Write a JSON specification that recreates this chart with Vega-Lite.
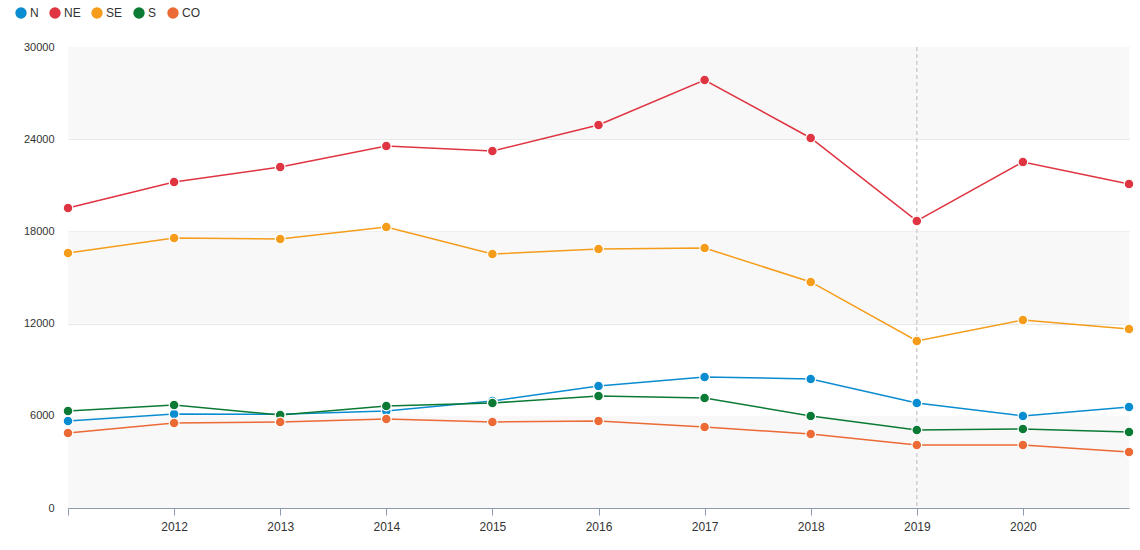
{
  "$schema": "https://vega.github.io/schema/vega-lite/v6.json",
  "width": 1061,
  "height": 461,
  "autosize": {"type": "none"},
  "padding": {"left": 68, "top": 47, "right": 11, "bottom": 42},
  "background": "white",
  "config": {
    "view": {"stroke": null},
    "font": "Arial, Liberation Sans, sans-serif"
  },
  "datasets": {
    "series": [
      {"ano": 2011, "regiao": "N", "valor": 5660},
      {"ano": 2012, "regiao": "N", "valor": 6120},
      {"ano": 2013, "regiao": "N", "valor": 6100},
      {"ano": 2014, "regiao": "N", "valor": 6310},
      {"ano": 2015, "regiao": "N", "valor": 6960},
      {"ano": 2016, "regiao": "N", "valor": 7940},
      {"ano": 2017, "regiao": "N", "valor": 8520},
      {"ano": 2018, "regiao": "N", "valor": 8400},
      {"ano": 2019, "regiao": "N", "valor": 6830},
      {"ano": 2020, "regiao": "N", "valor": 5990},
      {"ano": 2021, "regiao": "N", "valor": 6570},
      {"ano": 2011, "regiao": "NE", "valor": 19520},
      {"ano": 2012, "regiao": "NE", "valor": 21220},
      {"ano": 2013, "regiao": "NE", "valor": 22190},
      {"ano": 2014, "regiao": "NE", "valor": 23560},
      {"ano": 2015, "regiao": "NE", "valor": 23230},
      {"ano": 2016, "regiao": "NE", "valor": 24920},
      {"ano": 2017, "regiao": "NE", "valor": 27850},
      {"ano": 2018, "regiao": "NE", "valor": 24080},
      {"ano": 2019, "regiao": "NE", "valor": 18680},
      {"ano": 2020, "regiao": "NE", "valor": 22520},
      {"ano": 2021, "regiao": "NE", "valor": 21090},
      {"ano": 2011, "regiao": "SE", "valor": 16590},
      {"ano": 2012, "regiao": "SE", "valor": 17570},
      {"ano": 2013, "regiao": "SE", "valor": 17500},
      {"ano": 2014, "regiao": "SE", "valor": 18290},
      {"ano": 2015, "regiao": "SE", "valor": 16530},
      {"ano": 2016, "regiao": "SE", "valor": 16860},
      {"ano": 2017, "regiao": "SE", "valor": 16920},
      {"ano": 2018, "regiao": "SE", "valor": 14710},
      {"ano": 2019, "regiao": "SE", "valor": 10870},
      {"ano": 2020, "regiao": "SE", "valor": 12230},
      {"ano": 2021, "regiao": "SE", "valor": 11650},
      {"ano": 2011, "regiao": "S", "valor": 6310},
      {"ano": 2012, "regiao": "S", "valor": 6700},
      {"ano": 2013, "regiao": "S", "valor": 6050},
      {"ano": 2014, "regiao": "S", "valor": 6640},
      {"ano": 2015, "regiao": "S", "valor": 6830},
      {"ano": 2016, "regiao": "S", "valor": 7290},
      {"ano": 2017, "regiao": "S", "valor": 7160},
      {"ano": 2018, "regiao": "S", "valor": 5990},
      {"ano": 2019, "regiao": "S", "valor": 5080},
      {"ano": 2020, "regiao": "S", "valor": 5140},
      {"ano": 2021, "regiao": "S", "valor": 4950},
      {"ano": 2011, "regiao": "CO", "valor": 4880},
      {"ano": 2012, "regiao": "CO", "valor": 5530},
      {"ano": 2013, "regiao": "CO", "valor": 5600},
      {"ano": 2014, "regiao": "CO", "valor": 5790},
      {"ano": 2015, "regiao": "CO", "valor": 5600},
      {"ano": 2016, "regiao": "CO", "valor": 5660},
      {"ano": 2017, "regiao": "CO", "valor": 5270},
      {"ano": 2018, "regiao": "CO", "valor": 4820},
      {"ano": 2019, "regiao": "CO", "valor": 4100},
      {"ano": 2020, "regiao": "CO", "valor": 4100},
      {"ano": 2021, "regiao": "CO", "valor": 3640}
    ],
    "faixas": [
      {"y0": 0, "y1": 6000},
      {"y0": 12000, "y1": 18000},
      {"y0": 24000, "y1": 30000}
    ],
    "marcador": [{"ano": 2019}]
  },
  "layer": [
    {
      "data": {"name": "faixas"},
      "mark": {"type": "rect", "color": "#f8f8f8"},
      "encoding": {
        "y": {
          "field": "y0", "type": "quantitative",
          "scale": {"domain": [0, 30000], "nice": false},
          "axis": {
            "values": [0, 6000, 12000, 18000, 24000, 30000],
            "title": null, "domain": false, "ticks": false,
            "labelPadding": 14, "labelFontSize": 11, "labelColor": "#333",
            "gridColor": "#e6e6e6", "gridWidth": 1, "format": "d"
          }
        },
        "y2": {"field": "y1"}
      }
    },
    {
      "data": {"name": "marcador"},
      "mark": {"type": "rule", "color": "#cfcfcf", "strokeDash": [4, 3], "strokeWidth": 1.5},
      "encoding": {
        "x": {"field": "ano", "type": "quantitative", "scale": {"domain": [2011, 2021]}}
      }
    },
    {
      "data": {"name": "series"},
      "mark": {"type": "line", "strokeWidth": 1.5},
      "encoding": {
        "x": {
          "field": "ano", "type": "quantitative",
          "scale": {"domain": [2011, 2021], "nice": false, "zero": false},
          "axis": {
            "values": [2011, 2012, 2013, 2014, 2015, 2016, 2017, 2018, 2019, 2020],
            "labelExpr": "datum.value == 2011 ? '' : datum.label",
            "format": "d", "title": null, "grid": false,
            "domainColor": "#8c9cac", "tickColor": "#8c9cac", "tickSize": 7,
            "labelFontSize": 12, "labelColor": "#333", "labelPadding": 6
          }
        },
        "y": {"field": "valor", "type": "quantitative"},
        "color": {
          "field": "regiao", "type": "nominal",
          "scale": {
            "domain": ["N", "NE", "SE", "S", "CO"],
            "range": ["#0a8cd0", "#df3441", "#f59c1a", "#0b7a35", "#eb6a35"]
          },
          "legend": {
            "orient": "none", "direction": "horizontal",
            "legendX": -53, "legendY": -40,
            "title": null, "symbolType": "circle", "symbolSize": 130,
            "symbolStrokeWidth": 0, "labelFontSize": 12, "labelColor": "#333",
            "labelOffset": 3, "columnPadding": 10
          }
        }
      }
    },
    {
      "data": {"name": "series"},
      "mark": {"type": "point", "filled": true, "size": 95, "stroke": "white", "strokeWidth": 1.2, "opacity": 1},
      "encoding": {
        "x": {"field": "ano", "type": "quantitative"},
        "y": {"field": "valor", "type": "quantitative"},
        "color": {"field": "regiao", "type": "nominal", "legend": null}
      }
    }
  ]
}
